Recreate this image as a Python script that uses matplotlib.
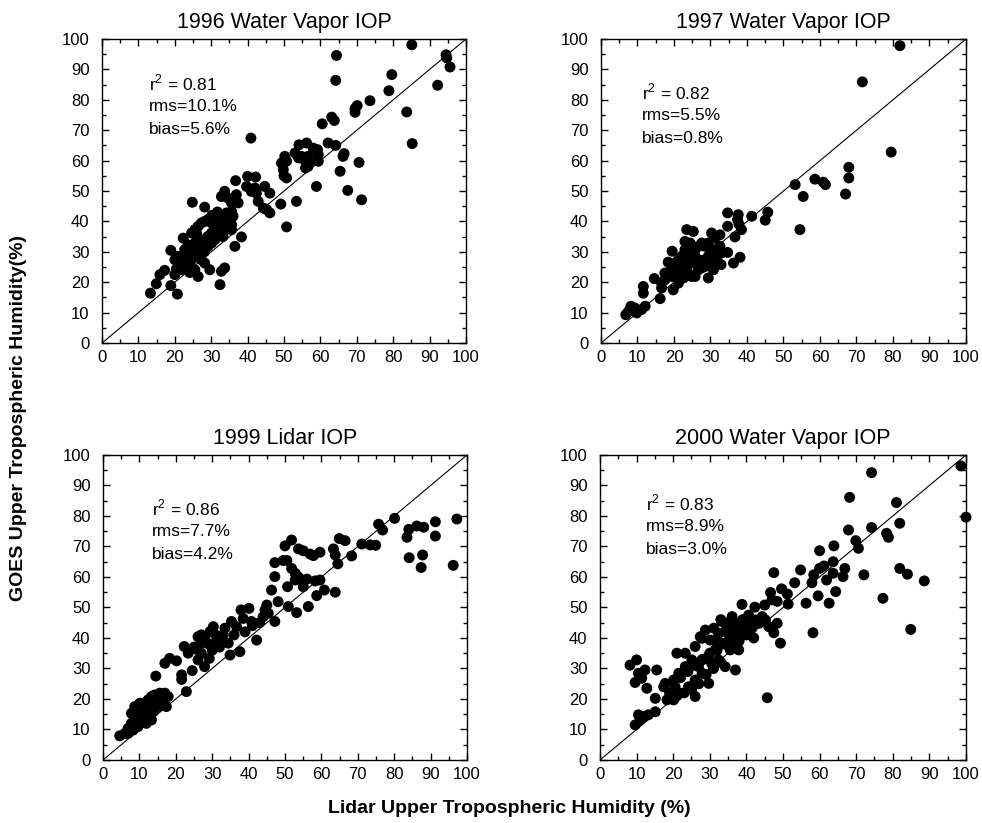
import matplotlib
matplotlib.use("Agg")
import matplotlib.pyplot as plt
from matplotlib.ticker import MultipleLocator

plt.rcParams['font.family'] = ['Liberation Sans', 'DejaVu Sans']
plt.rcParams['mathtext.fontset'] = 'custom'
plt.rcParams['mathtext.rm'] = 'Liberation Sans'

# ---- 1996 Water Vapor IOP ----
lidar_1996 = [85.1, 64.4, 94.5, 94.7, 95.6, 79.6, 64.2, 92.2, 78.8, 73.6, 70.1, 69.5, 69.5, 83.7,
              60.5, 63.1, 63.8, 40.9, 85.2, 62.1, 64.2, 66.5, 66.2, 54.1, 56.2, 58.0, 59.2, 59.4,
              50.2, 50.7, 49.3, 49.8, 50.0, 50.7, 53.0, 54.0, 54.8, 55.7, 56.6, 57.1, 56.6, 55.9,
              59.4, 70.6, 65.4, 58.9, 67.5, 71.3, 53.4, 49.1, 50.7, 40.0, 42.2, 36.7, 39.7, 42.0,
              41.0, 42.4, 42.9, 44.7, 46.1, 44.3, 46.1, 45.2, 33.7, 32.8, 34.6, 35.6, 36.9, 37.4,
              24.8, 28.2, 31.7, 34.2, 35.6, 36.0, 38.3, 36.5, 29.6, 32.8, 33.7, 32.4, 26.4, 18.9,
              22.3, 23.6, 22.7, 20.0, 21.3, 20.4, 20.0, 20.9, 15.9, 17.2, 14.9, 13.3, 18.9, 20.7,
              24.6, 25.5, 26.4, 27.3, 28.2, 29.1, 30.1, 31.0, 25.5, 26.4, 27.3, 28.2, 29.1, 30.1,
              31.0, 31.9, 32.8, 33.7, 34.6, 35.6, 25.5, 24.6, 23.6, 22.7, 21.8, 26.4, 27.3, 28.2,
              29.1, 30.1, 31.0, 31.9, 32.8, 34.2, 35.6, 25.5, 24.1,
              30.2, 32.1, 34.0, 29.0, 27.1, 26.0, 24.0, 22.2, 28.1, 33.2]
goes_1996 = [98.1, 94.6, 94.8, 93.8, 90.8, 88.3, 86.4, 84.8, 83.0, 79.7, 78.1, 77.1, 75.9, 76.0,
             72.1, 74.3, 73.2, 67.4, 65.6, 65.8, 65.0, 62.3, 61.4, 65.2, 65.8, 64.1, 63.6, 62.0,
             61.4, 59.8, 59.2, 57.0, 55.0, 54.3, 62.5, 60.9, 61.4, 60.1, 61.4, 59.8, 58.1, 57.6,
             59.8, 59.4, 56.5, 51.5, 50.2, 47.1, 46.6, 45.7, 38.2, 54.8, 54.6, 53.4, 51.5, 51.0,
             49.9, 49.3, 46.6, 51.5, 49.3, 44.4, 42.8, 43.9, 49.9, 48.2, 47.7, 46.1, 48.8, 46.1,
             46.3, 44.7, 43.1, 42.8, 43.3, 41.7, 34.9, 31.8, 24.1, 23.6, 24.7, 19.2, 21.9, 30.5,
             34.5, 32.3, 30.7, 27.4, 25.8, 24.3, 22.5, 28.5, 22.5, 23.9, 19.5, 16.4, 18.9, 16.1,
             36.2, 37.3, 38.4, 39.5, 40.0, 40.6, 39.5, 38.4, 32.9, 31.8, 30.7, 34.0, 35.1, 36.2,
             37.3, 38.4, 40.0, 39.5, 40.6, 38.9, 28.5, 27.4, 26.3, 25.2, 24.1, 29.6, 27.4, 26.3,
             31.8, 32.9, 34.0, 35.6, 36.2, 37.3, 37.3, 24.1, 23.2,
             42.0, 41.0, 38.0, 34.0, 33.0, 36.0, 30.0, 28.0, 30.0, 35.0]

# ---- 1997 Water Vapor IOP ----
lidar_1997 = [81.9, 71.6, 79.5, 67.9, 67.9, 67.0, 58.6, 60.9, 61.5, 53.2, 55.4, 54.5, 45.7, 45.0,
              41.3, 34.7, 37.6, 37.4, 38.5, 34.7, 36.7, 37.8, 23.5, 25.3, 30.3, 32.6, 29.4, 23.0,
              34.7, 38.1, 36.3, 32.9, 19.5, 18.4, 14.6, 11.6, 11.6, 12.1, 16.2, 19.8, 6.8, 8.2,
              9.8, 7.5, 11.1, 9.3, 16.6, 17.5, 18.9, 29.4, 31.6, 33.0, 32.6, 31.2,
              20.3, 21.2, 22.1, 23.0, 23.9, 24.8, 25.8, 26.7, 27.6, 28.5, 25.8, 26.7, 27.6, 28.5,
              29.4, 30.3, 22.1, 23.0, 23.9, 24.8, 22.6, 21.2, 20.3, 25.8, 26.7, 27.6, 24.8, 23.9,
              25.8, 28.5, 30.3, 30.8, 23.0, 24.4, 31.2, 21.2, 19.4, 17.5, 16.6]
goes_1997 = [97.8, 85.9, 62.8, 57.8, 54.3, 49.0, 53.9, 52.9, 52.1, 52.1, 48.2, 37.3, 43.0, 40.4,
             41.7, 42.8, 42.2, 40.6, 37.3, 38.4, 34.9, 39.1, 37.3, 36.7, 36.2, 35.6, 32.9, 33.4,
             29.8, 28.2, 26.3, 25.8, 30.2, 26.6, 21.2, 18.6, 16.4, 12.1, 14.6, 17.5, 9.3, 12.1,
             9.9, 10.4, 11.0, 11.5, 18.1, 20.8, 23.6, 21.4, 27.4, 29.6, 31.8, 30.7,
             26.3, 27.4, 28.5, 29.6, 30.7, 31.8, 30.7, 31.8, 32.9, 31.8, 28.5, 27.4, 26.3, 27.4,
             28.5, 29.6, 25.2, 24.1, 23.0, 21.9, 21.4, 23.0, 24.1, 21.9, 24.1, 24.7, 26.3, 27.4,
             26.3, 25.2, 26.3, 24.1, 30.7, 32.9, 34.5, 19.7, 21.9, 23.0, 19.7]

# ---- 1999 Lidar IOP ----
lidar_1999 = [80.1, 97.2, 91.3, 91.3, 84.0, 86.2, 88.1, 83.5, 84.1, 87.8, 87.4, 96.2, 75.7, 76.8,
              71.1, 73.4, 74.9, 68.3, 64.9, 66.5, 63.3, 63.8, 64.5, 51.8, 50.0, 53.7, 55.0, 56.9,
              57.8, 59.6, 47.2, 49.5, 50.5, 47.2, 46.3, 48.1, 47.2, 50.9, 51.8, 52.8, 53.7, 55.0,
              52.8, 50.7, 56.0, 58.3, 59.6, 58.7, 60.8, 63.8, 56.4, 53.2, 45.0, 44.5, 45.4, 37.9,
              40.1, 38.5, 40.8, 42.2, 37.6, 34.9, 30.3, 29.4, 33.5, 35.3, 36.7, 26.1, 27.0, 27.9,
              26.1, 27.0, 26.1, 27.9, 29.2, 30.7, 32.5, 34.4, 22.3, 24.5, 23.4, 17.0, 18.3, 20.2,
              21.6, 21.6, 22.9, 14.5,
              4.6, 6.0, 6.9, 7.8, 8.7, 9.6, 10.6, 11.5, 12.4, 13.3, 14.2, 15.6, 17.0, 17.9,
              17.4, 16.1, 15.1, 13.8, 12.4, 11.0, 9.6, 8.3, 6.9, 8.7, 10.1, 11.5, 12.8, 14.2,
              7.8, 9.2, 10.6, 13.3, 11.9, 15.1,
              27.0, 28.0, 29.0, 31.0, 33.0, 25.0, 24.0, 30.0, 32.0, 36.0, 39.0, 41.0, 43.0, 44.0]
goes_1999 = [79.2, 79.0, 78.1, 73.4, 75.6, 76.7, 76.3, 73.0, 66.3, 67.2, 63.1, 63.8, 77.3, 75.4,
             70.8, 70.5, 70.4, 66.9, 72.6, 71.9, 69.2, 67.2, 64.3, 72.1, 70.2, 69.2, 68.6, 67.5,
             67.0, 68.1, 64.7, 65.4, 65.4, 60.1, 55.7, 51.9, 45.4, 50.3, 62.8, 61.2, 59.9, 56.8,
             59.0, 56.8, 59.3, 58.7, 59.0, 53.9, 55.7, 55.0, 50.3, 48.3, 50.8, 49.2, 48.1, 49.2,
             49.7, 46.4, 45.4, 39.3, 35.5, 34.4, 43.7, 42.1, 43.2, 45.4, 43.7, 40.4, 38.3, 39.3,
             36.1, 35.0, 32.8, 30.6, 33.3, 38.3, 39.3, 38.3, 37.2, 29.3, 35.0, 31.7, 33.3, 32.5,
             27.9, 26.4, 22.4, 27.5,
             7.9, 8.7, 10.4, 12.0, 13.7, 15.3, 16.9, 18.6, 19.7, 20.8, 21.3, 21.9, 21.9, 20.8,
             17.5, 18.6, 17.5, 15.8, 14.2, 12.6, 10.9, 9.8, 8.7, 17.5, 18.6, 16.4, 17.5, 18.6,
             15.3, 12.0, 13.7, 13.1, 12.0, 19.7,
             41.0, 40.0, 38.0, 41.0, 41.0, 37.0, 36.0, 36.0, 37.0, 41.0, 42.0, 44.0, 45.0, 47.0]

# ---- 2000 Water Vapor IOP ----
lidar_2000 = [98.6, 74.2, 100.0, 68.2, 81.0, 81.9, 78.3, 78.8, 74.2, 67.9, 69.9, 70.6, 81.9, 84.0,
              88.6, 77.3, 84.9, 72.1, 60.0, 63.9, 63.7, 61.2, 60.0, 66.9, 66.4, 63.7, 61.9, 59.6,
              64.4, 62.6, 58.4, 57.9, 56.3, 58.2, 54.8, 53.2, 51.2, 51.4, 47.5, 49.6, 46.6, 48.4,
              47.0, 38.8, 42.3, 45.0, 48.4, 49.3, 47.5, 45.7, 36.1, 38.8, 40.6, 42.5, 44.3, 37.0,
              39.7, 41.5, 43.4, 45.2, 46.1, 33.3, 34.7, 28.8, 31.1, 27.9, 30.1, 32.4, 34.2, 35.2,
              37.0, 33.3, 31.5, 36.1, 37.9, 29.6, 30.5, 27.9, 32.4, 34.2, 37.0, 35.6, 31.5,
              26.0, 27.4, 21.0, 23.3, 25.1, 26.9, 23.3, 21.5, 20.1, 20.5, 21.9, 24.2, 26.0, 27.9,
              29.7, 26.0, 20.1, 18.3, 15.5, 17.8, 17.4, 15.1, 12.8, 10.5, 9.6, 8.2, 10.0, 12.3,
              11.4, 9.6, 11.0, 11.9, 13.2, 15.1, 10.5,
              33.0, 35.0, 37.0, 39.0, 41.0, 36.0, 38.0, 40.0, 42.0, 34.0, 36.0, 38.0, 30.0, 32.0,
              28.0, 26.0, 24.0, 22.0, 29.0, 31.0, 33.0, 27.0, 25.0, 23.0, 21.0, 19.0]
goes_2000 = [96.4, 94.2, 79.6, 86.1, 84.4, 77.6, 74.3, 73.0, 76.2, 75.4, 71.9, 69.4, 62.8, 60.9,
             58.7, 53.0, 42.8, 60.7, 68.6, 70.2, 65.0, 63.6, 62.8, 62.8, 60.1, 61.2, 59.0, 53.8,
             55.2, 51.4, 60.7, 58.1, 51.4, 41.7, 62.3, 58.1, 54.4, 51.1, 61.4, 56.1, 54.9, 52.0,
             52.5, 51.0, 50.1, 50.8, 44.8, 38.3, 41.7, 20.4, 47.0, 45.4, 47.5, 45.9, 47.0, 44.8,
             43.7, 43.2, 44.8, 45.9, 43.7, 45.4, 43.7, 42.6, 43.2, 39.9, 39.3, 41.5, 42.1, 39.3,
             40.4, 38.3, 36.1, 38.3, 36.1, 33.9, 31.7, 32.8, 32.8, 30.6, 29.5, 36.1, 39.3,
             37.2, 40.4, 35.0, 35.0, 32.8, 30.6, 30.6, 28.4, 26.2, 24.0, 21.9, 24.0, 26.2, 28.4,
             25.1, 20.8, 19.7, 19.7, 29.5, 25.1, 24.0, 20.2, 23.5, 28.4, 25.4, 31.1, 32.8, 29.5,
             26.8, 11.5, 13.1, 14.2, 14.8, 15.8, 14.8,
             46.0, 45.0, 44.0, 46.0, 46.0, 41.0, 42.0, 41.0, 40.0, 38.0, 37.0, 39.0, 35.0, 36.0,
             33.0, 31.0, 29.0, 27.0, 28.0, 30.0, 32.0, 25.0, 23.0, 22.0, 21.0, 22.0]

titles = ["1996 Water Vapor IOP", "1997 Water Vapor IOP", "1999 Lidar IOP", "2000 Water Vapor IOP"]
r2_values = ["0.81", "0.82", "0.86", "0.83"]
rms_values = ["10.1", "5.5", "7.7", "8.9"]
bias_values = ["5.6", "0.8", "4.2", "3.0"]
stat_pos = [(12.9, 85.5), (11.1, 82.7), (13.4, 82.6), (12.6, 84.3)]

datasets = [(lidar_1996, goes_1996), (lidar_1997, goes_1997),
            (lidar_1999, goes_1999), (lidar_2000, goes_2000)]

fig = plt.figure(figsize=(9.82, 8.23), dpi=100)
axes_rects = [
    (0.1039, 0.5832, 0.3707, 0.3694),
    (0.6120, 0.5832, 0.3717, 0.3694),
    (0.1049, 0.0766, 0.3707, 0.3706),
    (0.6110, 0.0766, 0.3727, 0.3706),
]

for rect, (lx, gy), title, r2, rms, bias, (tx, ty) in zip(
        axes_rects, datasets, titles, r2_values, rms_values, bias_values, stat_pos):
    ax = fig.add_axes(rect)
    ax.plot([0, 100], [0, 100], color='black', lw=0.8, zorder=1)
    ax.scatter(lx, gy, s=62, color='black', edgecolors='none', zorder=2, clip_on=False)
    ax.set_xlim(0, 100)
    ax.set_ylim(0, 100)
    ax.xaxis.set_major_locator(MultipleLocator(10))
    ax.yaxis.set_major_locator(MultipleLocator(10))
    ax.xaxis.set_minor_locator(MultipleLocator(5))
    ax.yaxis.set_minor_locator(MultipleLocator(5))
    ax.tick_params(which='both', direction='in', top=True, right=True,
                   labelsize=12, width=1.0, colors='black')
    ax.tick_params(which='major', length=5)
    ax.tick_params(which='minor', length=3)
    ax.tick_params(axis='x', which='major', pad=5)
    ax.tick_params(axis='y', which='major', pad=9)
    for sp in ax.spines.values():
        sp.set_linewidth(1.0)
    ax.set_title(title, fontsize=15.5, pad=8)
    step = 7.7
    ax.text(tx, ty, r"r$^2$ = " + r2, fontsize=12.5, va='center', ha='left')
    ax.text(tx, ty - step, "rms=" + rms + "%", fontsize=12.5, va='center', ha='left')
    ax.text(tx, ty - 2 * step, "bias=" + bias + "%", fontsize=12.5, va='center', ha='left')

fig.text(0.0185, 0.492, "GOES Upper Tropospheric Humidity(%)", rotation=90,
         fontsize=14, fontweight='bold', ha='center', va='center')
fig.text(0.519, 0.018, "Lidar Upper Tropospheric Humidity (%)",
         fontsize=14, fontweight='bold', ha='center', va='center')

fig.savefig("out.png", dpi=100)
